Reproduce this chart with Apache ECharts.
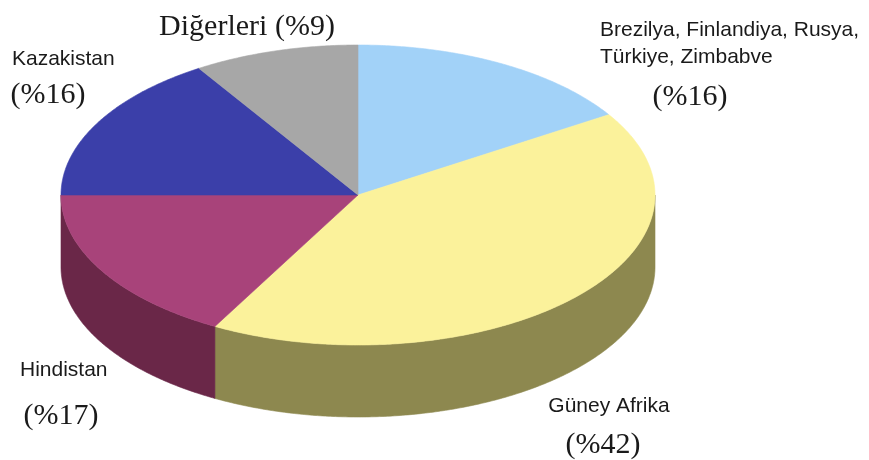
<!DOCTYPE html>
<html>
<head>
<meta charset="utf-8">
<script src="https://cdn.jsdelivr.net/npm/echarts@6/dist/echarts.min.js"></script>
<style>
  html, body { margin: 0; padding: 0; background: #ffffff; }
  #chart { width: 869px; height: 460px; }
</style>
</head>
<body>
<div id="chart"></div>
<script>
// Slice names, clockwise from 12 o'clock
const categories = [
  'Brezilya, Finlandiya, Rusya,\nTürkiye, Zimbabve',
  'Güney Afrika',
  'Hindistan',
  'Kazakistan',
  'Diğerleri'
];
// Share of each slice, in percent
const shares = [16, 42, 17, 16, 9];

// Face colours (top) and wall colours (side)
const topColors  = ['#a2d2f8', '#fbf29b', '#a8437a', '#3b3fa9', '#a7a7a7'];
const sideColors = ['#6c8ca6', '#8d884f', '#6a2748', '#262a70', '#6f6f6f'];

// Elliptical disc geometry
const CX = 358, CY = 195, RX = 297, RY = 150, DEPTH = 72;

const total = shares.reduce((a, b) => a + b, 0);
const starts = [];
let acc = 0;
shares.forEach(v => { starts.push(acc / total * 360); acc += v; });

// point on the rim at angle deg (clockwise from top), optionally pushed down
function pt(deg, dy) {
  const r = deg * Math.PI / 180;
  return [CX + RX * Math.sin(r), CY - RY * Math.cos(r) + (dy || 0)];
}
function arc(a0, a1, dy) {
  const pts = [];
  const n = Math.max(2, Math.ceil(Math.abs(a1 - a0) / 0.5));
  for (let i = 0; i <= n; i++) pts.push(pt(a0 + (a1 - a0) * i / n, dy));
  return pts;
}

function renderItem(params, api) {
  const i = params.dataIndex;
  const a0 = starts[i];
  const a1 = a0 + api.value(0) / total * 360;
  const children = [];
  // front wall: only the part between 90° and 270° faces the viewer
  const s = Math.max(a0, 90), e = Math.min(a1, 270);
  if (e > s) {
    const upper = arc(s, e, 0);
    const lower = arc(e, s, DEPTH);
    children.push({
      type: 'polygon',
      shape: { points: upper.concat(lower) },
      style: { fill: sideColors[i], stroke: sideColors[i], lineWidth: 0.6 }
    });
  }
  // top face
  children.push({
    type: 'polygon',
    shape: { points: [[CX, CY]].concat(arc(a0, a1, 0)) },
    style: { fill: topColors[i], stroke: topColors[i], lineWidth: 0.6 }
  });
  return { type: 'group', children: children };
}

const sansFont = '"Liberation Sans", Arial, sans-serif';
const serifFont = '"Liberation Serif", "Times New Roman", serif';
const pct = v => '(%' + v + ')';

const texts = [];
// slice names
texts.push({ x: 600, y: 44, text: categories[0], align: 'left', font: '21px ' + sansFont, lh: 27 });
texts.push({ x: 609, y: 406, text: categories[1], align: 'center', font: '21px ' + sansFont });
texts.push({ x: 20, y: 370, text: categories[2], align: 'left', font: '21px ' + sansFont });
texts.push({ x: 12, y: 59, text: categories[3], align: 'left', font: '21px ' + sansFont });
texts.push({ x: 247, y: 27, text: categories[4] + ' ' + pct(shares[4]), align: 'center', font: '30px ' + serifFont });
// percentages
texts.push({ x: 690, y: 97, text: pct(shares[0]), align: 'center', font: '30px ' + serifFont });
texts.push({ x: 603, y: 445, text: pct(shares[1]), align: 'center', font: '30px ' + serifFont });
texts.push({ x: 61, y: 416, text: pct(shares[2]), align: 'center', font: '30px ' + serifFont });
texts.push({ x: 48, y: 95, text: pct(shares[3]), align: 'center', font: '30px ' + serifFont });

const chart = echarts.init(document.getElementById('chart'), null, { renderer: 'canvas' });
chart.setOption({
  backgroundColor: '#ffffff',
  animation: false,
  series: [{
    type: 'custom',
    coordinateSystem: 'none',
    renderItem: renderItem,
    data: shares.map(v => [v]),
    silent: true
  }],
  graphic: texts.map(t => ({
    type: 'text',
    x: t.x, y: t.y,
    style: {
      text: t.text, fill: '#1a1a1a', font: t.font,
      align: t.align, verticalAlign: 'middle',
      lineHeight: t.lh || undefined
    },
    silent: true
  }))
});
</script>
</body>
</html>
